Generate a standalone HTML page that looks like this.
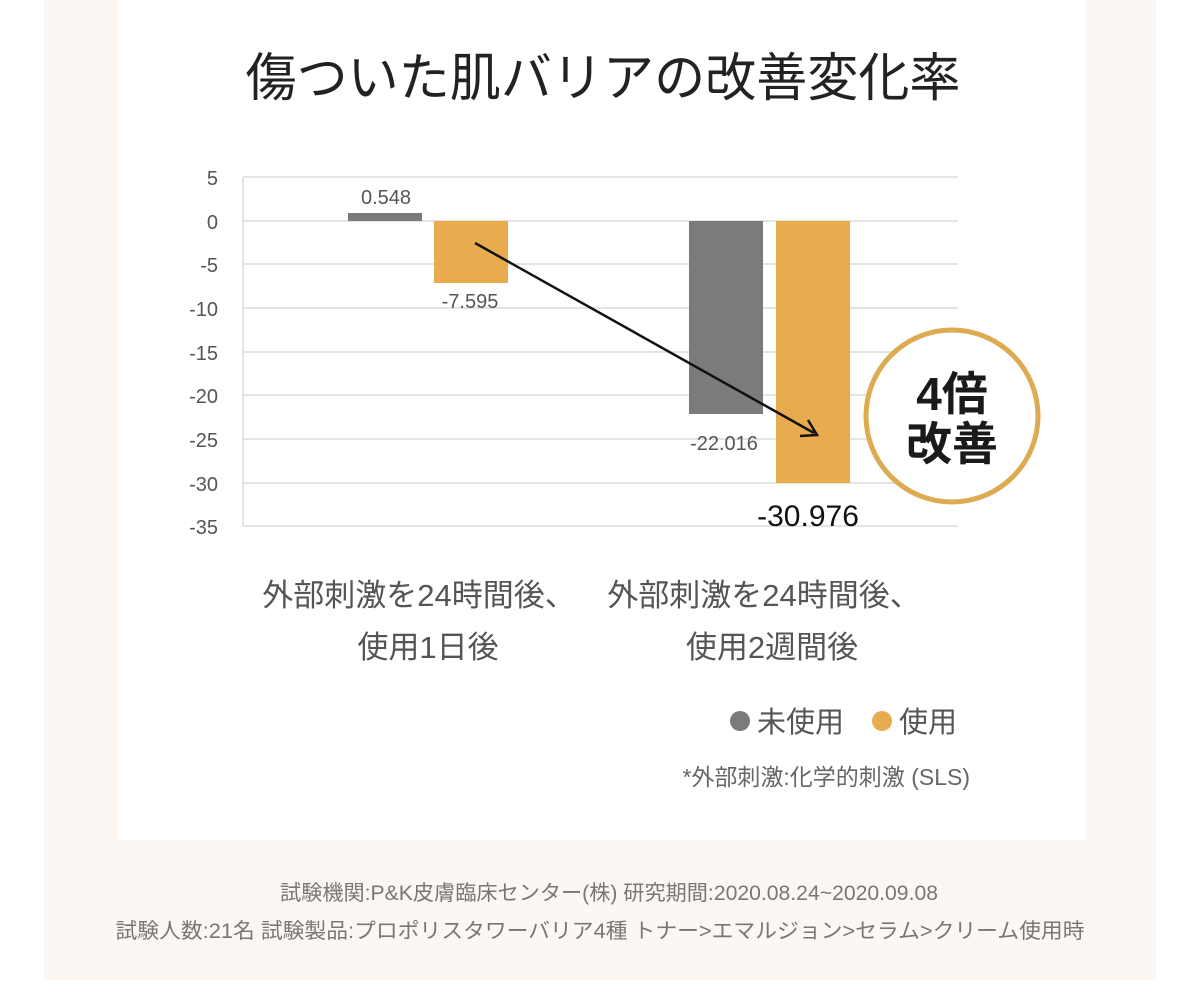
<!DOCTYPE html>
<html><head><meta charset="utf-8"><style>
html,body{margin:0;padding:0;background:#fff;}
body{width:1200px;height:1006px;position:relative;overflow:hidden;font-family:"Liberation Sans","Noto Sans CJK JP",sans-serif;}
</style></head><body>
<svg width="1200" height="1006" xmlns="http://www.w3.org/2000/svg" style="position:absolute;left:0;top:0" font-family="Liberation Sans, Noto Sans CJK JP, sans-serif">
<rect x="44" y="0" width="1112" height="980" fill="#fcf7f2"/>
<rect x="118" y="0" width="968" height="840" fill="#ffffff"/>
<text x="603" y="96" font-size="52" text-anchor="middle" fill="#222" textLength="715" lengthAdjust="spacingAndGlyphs">傷ついた肌バリアの改善変化率</text>
<g stroke="#dcdcdc" stroke-width="1.5">
<line x1="243" y1="177" x2="958" y2="177"/>
<line x1="243" y1="221" x2="958" y2="221"/>
<line x1="243" y1="264" x2="958" y2="264"/>
<line x1="243" y1="308" x2="958" y2="308"/>
<line x1="243" y1="352" x2="958" y2="352"/>
<line x1="243" y1="395" x2="958" y2="395"/>
<line x1="243" y1="439" x2="958" y2="439"/>
<line x1="243" y1="483" x2="958" y2="483"/>
<line x1="243" y1="526" x2="958" y2="526"/>
<line x1="243" y1="177" x2="243" y2="526"/>
</g>
<g font-size="20" fill="#555" text-anchor="end">
<text x="218" y="185">5</text><text x="218" y="229">0</text><text x="218" y="272">-5</text>
<text x="218" y="316">-10</text><text x="218" y="360">-15</text><text x="218" y="403">-20</text>
<text x="218" y="447">-25</text><text x="218" y="491">-30</text><text x="218" y="534">-35</text>
</g>
<rect x="348" y="213" width="74" height="8" fill="#7b7b7d"/>
<rect x="434" y="221" width="74" height="62" fill="#e8ac4e"/>
<rect x="689" y="221" width="74" height="193" fill="#7b7b7d"/>
<rect x="776" y="221" width="74" height="262" fill="#e8ac4e"/>
<text x="386" y="204" font-size="20" fill="#555" text-anchor="middle">0.548</text>
<text x="470" y="308" font-size="20" fill="#555" text-anchor="middle">-7.595</text>
<text x="724" y="450" font-size="20" fill="#555" text-anchor="middle">-22.016</text>
<text x="808" y="526" font-size="30" fill="#111" text-anchor="middle">-30.976</text>
<line x1="475" y1="243" x2="814" y2="433" stroke="#111" stroke-width="2.5"/>
<polyline points="800,436 817,435 808,420" fill="none" stroke="#111" stroke-width="2.5"/>
<circle cx="952" cy="416" r="86" fill="#fff" stroke="#dcab52" stroke-width="5"/>
<text x="952" y="410" font-size="46" font-weight="bold" fill="#1a1a1a" text-anchor="middle">4倍</text>
<text x="952" y="460" font-size="46" font-weight="bold" fill="#1a1a1a" text-anchor="middle">改善</text>
<g font-size="31" fill="#555" text-anchor="middle">
<text x="419" y="606">外部刺激を24時間後、</text>
<text x="428" y="658">使用1日後</text>
<text x="764" y="606">外部刺激を24時間後、</text>
<text x="772" y="658">使用2週間後</text>
</g>
<circle cx="740" cy="721" r="10" fill="#7b7b7d"/>
<text x="757" y="732" font-size="29" fill="#555">未使用</text>
<circle cx="882" cy="721" r="10" fill="#e8ac4e"/>
<text x="899" y="732" font-size="29" fill="#555">使用</text>
<text x="970" y="785" font-size="23" fill="#666" text-anchor="end">*外部刺激:化学的刺激 (SLS)</text>
<text x="609" y="900" font-size="21" fill="#777" text-anchor="middle" textLength="658" lengthAdjust="spacingAndGlyphs">試験機関:P&amp;K皮膚臨床センター(株) 研究期間:2020.08.24~2020.09.08</text>
<text x="600" y="938" font-size="21" fill="#777" text-anchor="middle" textLength="969" lengthAdjust="spacingAndGlyphs">試験人数:21名 試験製品:プロポリスタワーバリア4種 トナー&gt;エマルジョン&gt;セラム&gt;クリーム使用時</text>
</svg>
</body></html>
